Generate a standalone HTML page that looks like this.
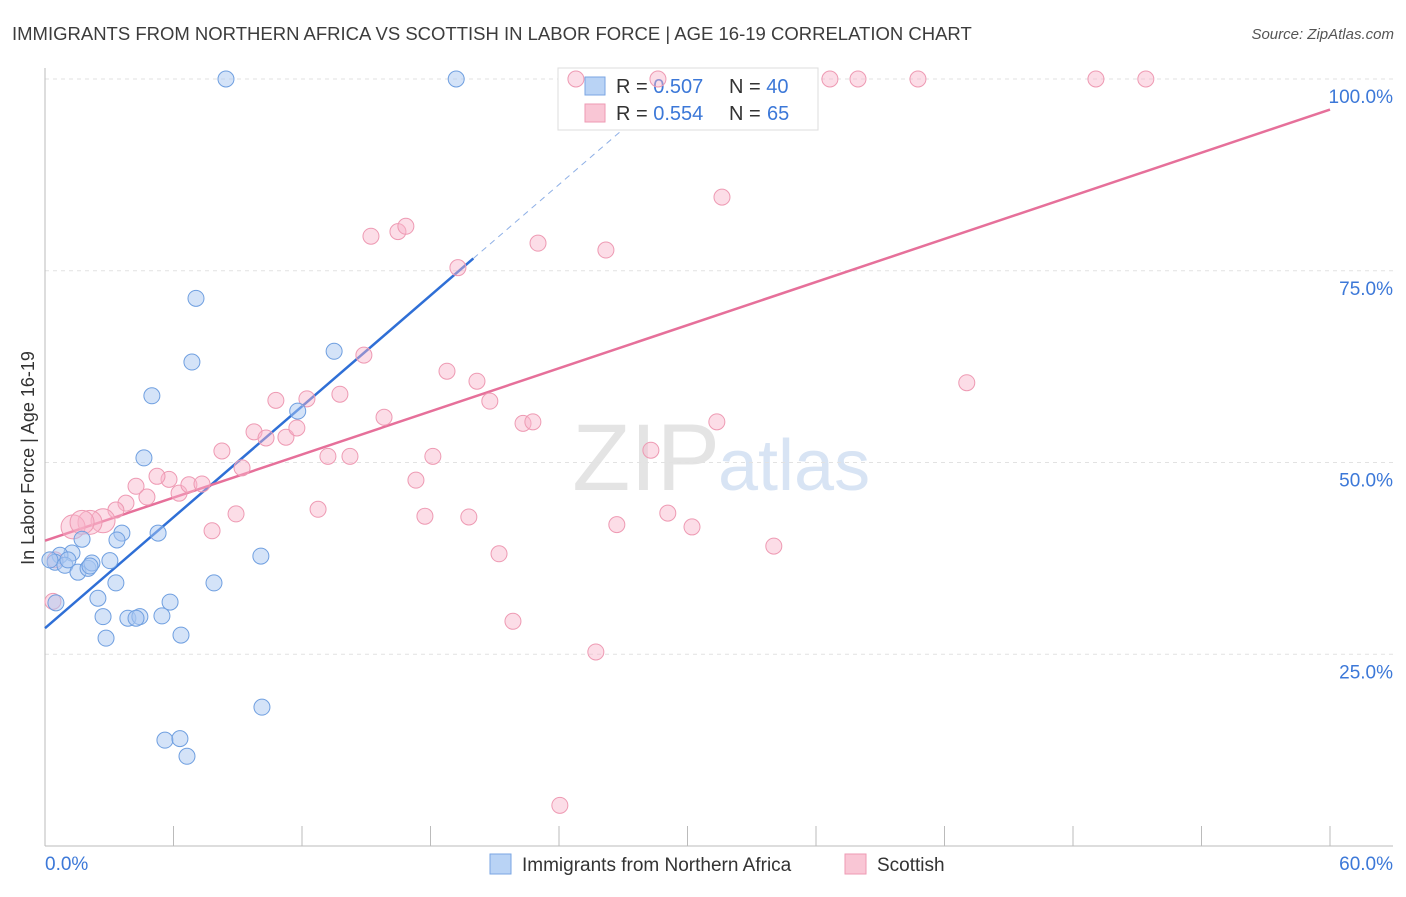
<!DOCTYPE html>
<html><head><meta charset="utf-8"><style>
body{margin:0;background:#fff;font-family:"Liberation Sans",sans-serif;}
svg text{font-family:"Liberation Sans",sans-serif;}
</style></head><body>
<svg id="chart" width="1406" height="892">
<text x="12" y="40" font-size="18.5" fill="#3c3c3c">IMMIGRANTS FROM NORTHERN AFRICA VS SCOTTISH IN LABOR FORCE | AGE 16-19 CORRELATION CHART</text>
<text x="1394" y="39" font-size="15" fill="#555" text-anchor="end" font-style="italic">Source: ZipAtlas.com</text>
<text x="0" y="0" transform="translate(34,458) rotate(-90)" font-size="18" fill="#333" text-anchor="middle">In Labor Force | Age 16-19</text>
<text x="720" y="490" font-size="95" fill="#e4e4e4" text-anchor="end" font-family="Liberation Serif">ZIP</text>
<text x="718" y="490" font-size="72" fill="#d8e4f4">atlas</text>
<g id="grid"></g><g id="axes"></g>
<g>
<rect x="558" y="68" width="260" height="62" fill="#fff" stroke="#ddd"/>
<rect x="585" y="77" width="20" height="18" fill="#b9d3f5" stroke="#7aa6e3"/>
<rect x="585" y="104" width="20" height="18" fill="#f9c6d5" stroke="#ee9ab3"/>
<text x="616" y="93" font-size="20" fill="#333">R = <tspan fill="#3c78d8">0.507</tspan><tspan x="729">N = </tspan><tspan fill="#3c78d8">40</tspan></text>
<text x="616" y="120" font-size="20" fill="#333">R = <tspan fill="#3c78d8">0.554</tspan><tspan x="729">N = </tspan><tspan fill="#3c78d8" x="767">65</tspan></text>
</g>
<g id="lines"></g><g id="pts"></g>
<g>
<rect x="490" y="854" width="21" height="20" fill="#b9d3f5" stroke="#7aa6e3"/>
<text x="522" y="871" font-size="19" fill="#333">Immigrants from Northern Africa</text>
<rect x="845" y="854" width="21" height="20" fill="#f9c6d5" stroke="#ee9ab3"/>
<text x="877" y="871" font-size="19" fill="#333">Scottish</text>
</g>
<text x="45" y="870" font-size="19" fill="#3c78d8">0.0%</text>
<text x="1393" y="870" font-size="19" fill="#3c78d8" text-anchor="end">60.0%</text>
</svg>
<script>
const yTicks=[25,50,75,100];
const blueX=[8.45,19.2,7.05,6.86,4.99,13.5,11.8,4.62,5.28,3.59,3.36,1.73,1.26,0.70,0.47,0.93,1.54,2.01,2.19,3.03,2.47,3.31,7.89,10.08,2.71,3.87,4.43,5.46,5.84,2.85,6.35,0.51,10.13,5.60,6.30,6.63,0.23,1.07,2.1,4.25];
const blueY=[100,100,71.4,63.1,58.7,64.5,56.7,50.6,40.8,40.8,39.9,40.0,38.2,37.9,37.0,36.6,35.7,36.2,36.9,37.2,32.3,34.3,34.3,37.8,29.9,29.7,29.9,30.0,31.8,27.1,27.5,31.7,18.1,13.8,14.0,11.7,37.3,37.3,36.5,29.7];
const pinkX=[24.79,28.62,36.65,37.96,40.76,49.07,51.40,31.61,23.02,26.19,15.22,16.48,16.85,19.28,14.89,18.77,20.17,13.77,12.23,10.78,20.77,15.83,22.32,22.78,31.37,43.04,9.76,10.32,11.25,11.76,8.26,9.20,13.21,14.24,18.11,28.29,17.32,5.79,5.23,6.26,6.72,7.33,4.25,4.76,3.78,3.31,2.71,2.10,1.31,1.73,8.92,12.75,7.80,17.74,19.79,26.70,29.08,30.21,34.03,21.20,21.85,25.72,24.04,0.37,0.47];
const pinkY=[100,100,100,100,100,100,100,84.6,78.6,77.7,79.5,80.1,80.8,75.4,64.0,61.9,60.6,58.9,58.3,58.1,58.0,55.9,55.1,55.3,55.3,60.4,54.0,53.2,53.3,54.5,51.5,49.3,50.8,50.8,50.8,51.6,47.7,47.8,48.2,46.0,47.1,47.2,46.9,45.5,44.7,43.8,42.4,42.2,41.6,42.2,43.3,43.9,41.1,43.0,42.9,41.9,43.4,41.6,39.1,38.1,29.3,25.3,5.3,31.9,37.3];
const blueFit=[28.4,2.41]; const pinkFit=[39.8,0.937];
const xs=v=>45+v*1285/60, ys=v=>846-v*7.67;
const NS='http://www.w3.org/2000/svg';
function mk(t,p,a){const e=document.createElementNS(NS,t);for(const k in a)e.setAttribute(k,a[k]);p.appendChild(e);return e;}
const grid=document.getElementById('grid'),axes=document.getElementById('axes');
yTicks.forEach(t=>{
 const l=mk('line',grid,{x1:45,x2:1393,y1:ys(t),y2:ys(t),stroke:'#e2e2e2','stroke-dasharray':'4,4'});
 
 
 const tx=mk('text',grid,{x:1393,y:ys(t)+24,'font-size':19,fill:'#3c78d8','text-anchor':'end'});
 tx.textContent=t.toFixed(1)+'%';
 
 
});
const ax=mk('line',axes,{x1:45,x2:1393,y1:846,y2:846,stroke:'#bbb'});


const ay=mk('line',axes,{x1:45,x2:45,y1:68,y2:846,stroke:'#bbb'});


for(let i=0;i<=10;i++){const v=i*6;const tk=mk('line',axes,{x1:xs(v),x2:xs(v),y1:826,y2:846,stroke:'#bbb'});
 
 }
const pts=document.getElementById('pts');
pinkX.forEach((x,i)=>{const r=(x<3&&pinkY[i]>40&&pinkY[i]<43)?12:8;
 const c=mk('circle',pts,{cx:xs(x),cy:ys(pinkY[i]),r:r,fill:'rgba(249,180,202,0.45)',stroke:'#ee9ab3','stroke-width':1});
 
 });
blueX.forEach((x,i)=>{const c=mk('circle',pts,{cx:xs(x),cy:ys(blueY[i]),r:8,fill:'rgba(170,200,242,0.5)',stroke:'#6f9fe0','stroke-width':1});
 
 });
const lines=document.getElementById('lines');
const b1=mk('line',lines,{x1:xs(0),y1:ys(blueFit[0]),x2:xs(20),y2:ys(blueFit[0]+20*blueFit[1]),stroke:'#2f6fd6','stroke-width':2.5});


const b2=mk('line',lines,{x1:xs(20),y1:ys(blueFit[0]+20*blueFit[1]),x2:xs(27),y2:ys(blueFit[0]+27*blueFit[1]),stroke:'#8fb0e6','stroke-width':1,'stroke-dasharray':'6,5'});


const p1=mk('line',lines,{x1:xs(0),y1:ys(pinkFit[0]),x2:xs(60),y2:ys(pinkFit[0]+60*pinkFit[1]),stroke:'#e6709a','stroke-width':2.5});


</script>
</body></html>
